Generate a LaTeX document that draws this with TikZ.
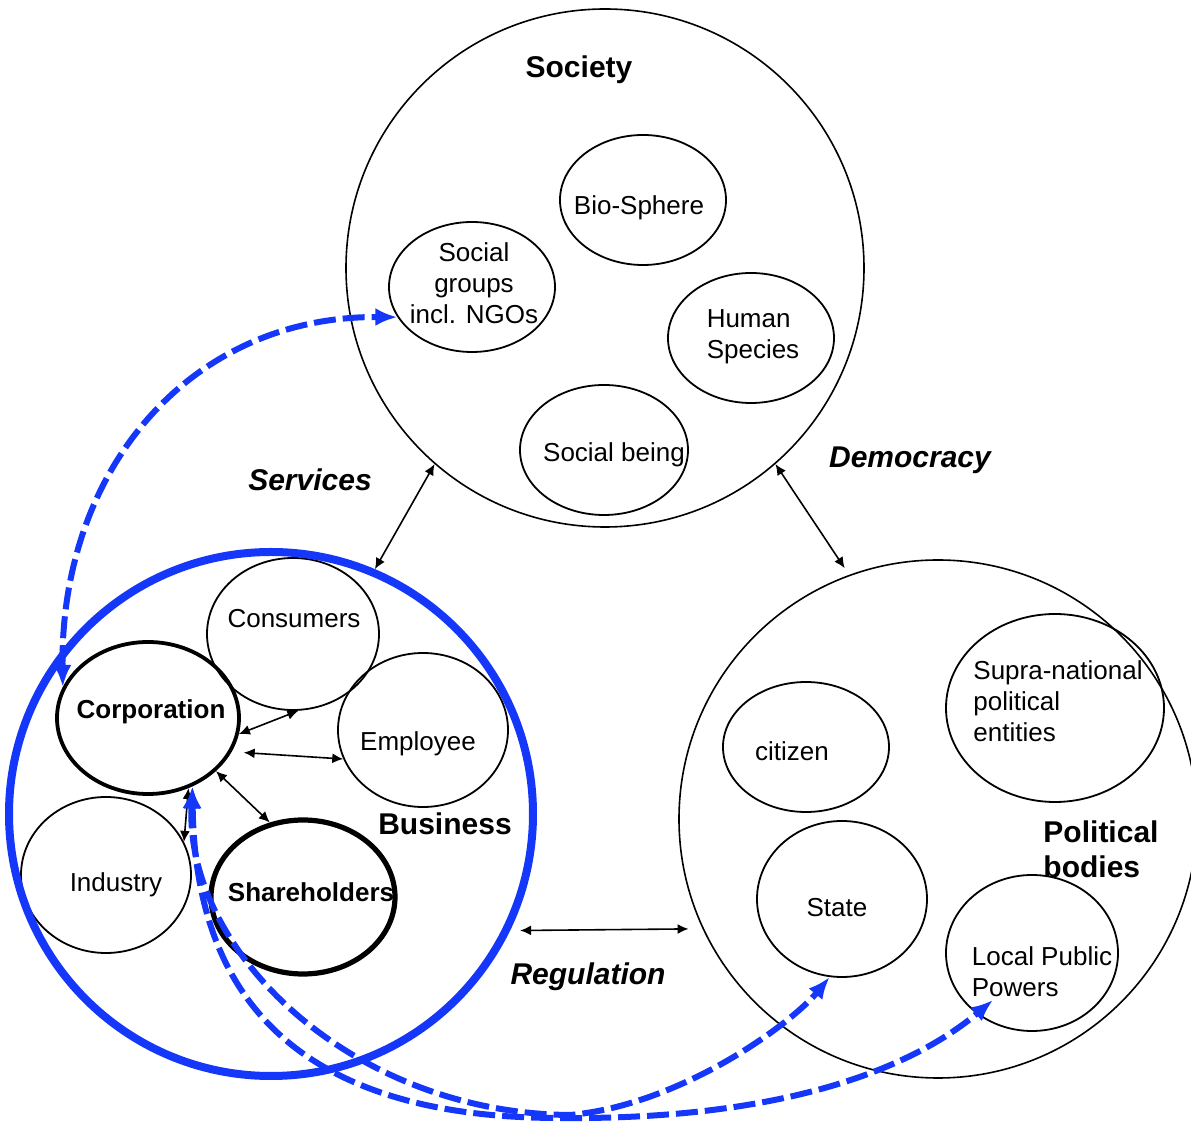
\documentclass[tikz,border=0pt]{standalone}
\usepackage{fontspec}
\setmainfont{Liberation Sans}
\usetikzlibrary{shapes.geometric,arrows.meta,positioning}
\definecolor{bizblue}{RGB}{20,55,250}

\begin{document}
\begin{tikzpicture}[x=0.5pt, y=-0.5pt,
    world/.style={circle, draw, line width=0.8pt, inner sep=0pt, minimum size=259pt},
    bubble/.style={ellipse, draw, line width=0.9pt, inner sep=0pt},
    heavy/.style={bubble, line width=1.9pt},
    txt/.style={font=\fontsize{13}{15.5}\selectfont, inner sep=0pt, align=center},
    bold/.style={txt, font=\fontsize{13}{15.5}\selectfont\bfseries},
    head/.style={font=\fontsize{15}{17.5}\selectfont\bfseries, inner sep=0pt, align=left},
    link/.style={font=\fontsize{15}{17.5}\selectfont\bfseries\itshape, inner sep=0pt},
    both/.style={{Latex[length=5.5pt,width=5pt]}-{Latex[length=5.5pt,width=5pt]}, line width=0.8pt},
    flow/.style={{Latex[length=11pt,width=9pt]}-{Latex[length=11pt,width=9pt]}, draw=bizblue, line width=3pt, dash pattern=on 11pt off 3.5pt}]
    \useasboundingbox (0,0) rectangle (1191,1122);

    % society
    \node[world] (soc) at (605,268) {};
    \node[head] (soc_t) at (579,70) {Society};
    \node[bubble, minimum width=83pt, minimum height=65pt] (bio) at (643,200) {};
    \node[txt] (bio_t) at (639,208) {Bio-Sphere};
    \node[bubble, minimum width=83pt, minimum height=65pt] (ngo) at (472,287) {};
    \node[txt] (ngo_t) at (474,283) {Social\\groups\\incl. NGOs};
    \node[bubble, minimum width=83pt, minimum height=65pt] (hum) at (751,338) {};
    \node[txt, align=left] (hum_t) at (753,337) {Human\\Species};
    \node[bubble, minimum width=84pt, minimum height=65pt] (being) at (604,450) {};
    \node[txt] (being_t) at (614,455) {Social being};

    % political bodies
    \node[world] (pol) at (938,819) {};
    \node[head] (pol_t) at (1101,849) {Political\\bodies};
    \node[bubble, minimum width=83pt, minimum height=65pt] (cit) at (806,747) {};
    \node[txt] (cit_t) at (792,751) {citizen};
    \node[bubble, minimum width=109pt, minimum height=94pt] (supra) at (1055,708) {};
    \node[txt, align=left] (supra_t) at (1058,701) {Supra-national\\political\\entities};
    \node[bubble, minimum width=85pt, minimum height=78pt] (state) at (842,899) {};
    \node[txt] (state_t) at (837,908) {State};
    \node[bubble, minimum width=86pt, minimum height=78pt] (local) at (1032,953) {};
    \node[txt, align=left] (local_t) at (1042,972) {Local Public\\Powers};

    % business
    \node[bubble, minimum width=86pt, minimum height=76pt] (cons) at (293,634) {};
    \node[txt] (cons_t) at (294,619) {Consumers};
    \node[heavy, minimum width=91pt, minimum height=76pt] (corp) at (148,718) {};
    \node[bold] (corp_t) at (151,712) {Corporation};
    \node[bubble, minimum width=85pt, minimum height=77pt] (empl) at (423,730) {};
    \node[txt] (empl_t) at (418,744) {Employee};
    \node[bubble, minimum width=85pt, minimum height=78pt] (ind) at (106,875) {};
    \node[txt] (ind_t) at (116,885) {Industry};
    \node[heavy, line width=2.6pt, minimum width=92pt, minimum height=77pt] (share) at (303,897) {};
    \node[bold] (share_t) at (311,892) {Shareholders};
    \node[circle, draw=bizblue, line width=4pt, inner sep=0pt, minimum size=262pt] (biz) at (271,814) {};
    \node[head] (biz_t) at (445,824) {Business};

    \node[link] (serv) at (310,480) {Services};
    \node[link] (demo) at (910,460) {Democracy};
    \node[link] (reg) at (588,977) {Regulation};

    \path[both]
    (soc.229) edge (biz.67)
    (soc.311) edge[shorten >=4pt] (pol.110)
    (biz.334) edge[shorten <=5pt, shorten >=7pt] (pol.205)
    (corp.350) edge (cons.274)
    (corp.338) edge[shorten <=6pt] (empl.200)
    (corp.322) edge (share.114)
    (corp.300) edge (ind.23);

    % blue flows
    \draw[flow] (corp.160) .. controls (60,470) and (190,316) .. (ngo.202);
    \draw[flow] (corp.303) .. controls (185,950) and (350,1113) .. (570,1115)
        .. controls (680,1105) and (790,1025) .. (state.261);
    \draw[flow] (corp.303) .. controls (195,1000) and (300,1118) .. (560,1118)
        .. controls (780,1120) and (910,1070) .. ([shift={(-39,47)}]local.center);
\end{tikzpicture}
\end{document}
